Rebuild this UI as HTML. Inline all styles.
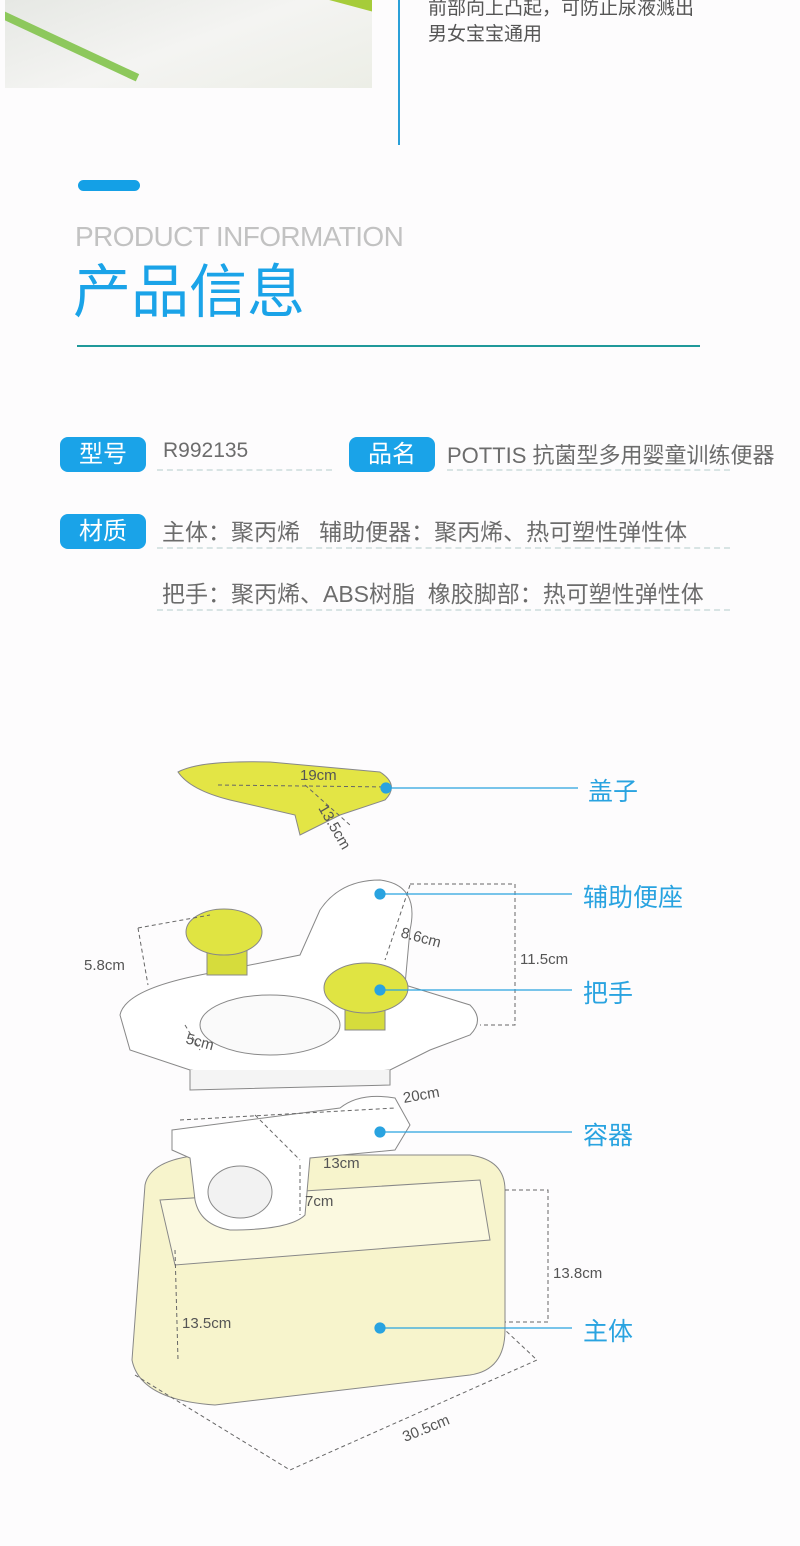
<!DOCTYPE html>
<html><head><meta charset="utf-8"><style>
body{margin:0;width:800px;height:1546px;background:#fdfcfd;position:relative;overflow:hidden;font-family:"Liberation Sans","Noto Sans CJK SC",sans-serif}
.a{position:absolute;white-space:nowrap}
.pill{position:absolute;background:#1aa3e8;color:#fff;border-radius:8px;font-size:24px;text-align:center;line-height:35px;height:35px;width:86px}
.t{position:absolute;color:#6c6c6c;font-size:23px;white-space:nowrap}
.d{position:absolute;border-top:2px dashed #d8e4e4;height:0}
</style></head><body>
<div class="a" style="left:5px;top:0;width:367px;height:88px;background:linear-gradient(160deg,#e6e8e4,#f4f4f2 50%,#eceee6);overflow:hidden">
<div style="position:absolute;left:-20px;top:40px;width:160px;height:8px;background:#8dc85c;transform:rotate(25deg)"></div>
<div style="position:absolute;left:300px;top:-10px;width:80px;height:14px;background:#a6cc3a;transform:rotate(15deg)"></div></div>
<div class="a" style="left:398px;top:0;width:2px;height:145px;background:#2aa0d8"></div>
<div class="a" style="left:428px;top:-4px;font-size:19px;color:#555;line-height:26px">前部向上凸起，可防止尿液溅出<br>男女宝宝通用</div>
<div class="a" style="left:78px;top:180px;width:62px;height:11px;border-radius:6px;background:#14a0e6"></div>
<div class="a" style="left:75px;top:221px;font-size:28px;color:#c2c2c2;letter-spacing:-0.6px">PRODUCT INFORMATION</div>
<div class="a" style="left:73px;top:258px;font-size:58px;color:#1aa3e8;line-height:70px">产品信息</div>
<div class="a" style="left:77px;top:345px;width:623px;height:2px;background:#20999a"></div>

<div class="pill" style="left:60px;top:437px">型号</div>
<div class="t" style="left:163px;top:439px;font-size:21px">R992135</div>
<div class="d" style="left:157px;top:469px;width:175px"></div>
<div class="pill" style="left:349px;top:437px">品名</div>
<div class="t" style="left:447px;top:438px;font-size:22px">POTTIS 抗菌型多用婴童训练便器</div>
<div class="d" style="left:447px;top:469px;width:283px"></div>
<div class="pill" style="left:60px;top:514px">材质</div>
<div class="t" style="left:162px;top:513px">主体：聚丙烯&nbsp;&nbsp;&nbsp;辅助便器：聚丙烯、热可塑性弹性体</div>
<div class="d" style="left:157px;top:547px;width:573px"></div>
<div class="t" style="left:162px;top:575px">把手：聚丙烯、ABS树脂&nbsp;&nbsp;橡胶脚部：热可塑性弹性体</div>
<div class="d" style="left:157px;top:609px;width:573px"></div>

<svg class="a" style="left:0;top:740px" width="800" height="760" viewBox="0 740 800 760" font-family="Liberation Sans" font-size="15" fill="#555">
<g stroke="#888" stroke-width="1">
<!-- main body -->
<path d="M145 1185 Q150 1160 200 1155 L470 1155 Q505 1160 505 1190 L505 1330 Q505 1370 470 1375 L215 1405 Q140 1400 132 1360 Z" fill="#f7f4cc"/>
<path d="M160 1200 L480 1180 L490 1240 L175 1265 Z" fill="#fbf9e0"/>
<!-- container -->
<path d="M172 1130 L340 1108 Q360 1092 395 1098 L410 1125 L395 1150 L310 1158 L305 1215 Q290 1230 230 1230 Q200 1225 195 1200 L190 1158 L172 1150 Z" fill="#fff"/>
<ellipse cx="240" cy="1192" rx="32" ry="26" fill="#f2f2f2"/>
<!-- seat -->
<path d="M120 1015 Q125 990 200 975 L300 955 L320 910 Q340 880 380 880 Q420 885 410 930 L405 985 L470 1005 Q485 1020 470 1035 L430 1050 L390 1070 L260 1080 L190 1070 L130 1050 Z" fill="#fff"/>
<path d="M190 1070 L190 1090 L390 1085 L390 1070" fill="#f4f4f4"/>
<ellipse cx="270" cy="1025" rx="70" ry="30" fill="#fafafa"/>
<!-- handles -->
<rect x="207" y="945" width="40" height="30" fill="#d6dc3c"/>
<ellipse cx="224" cy="932" rx="38" ry="23" fill="#e0e442"/>
<rect x="345" y="995" width="40" height="35" fill="#d6dc3c"/>
<ellipse cx="366" cy="988" rx="42" ry="25" fill="#e0e442"/>
<!-- lid -->
<path d="M178 772 Q200 760 270 762 L380 772 Q400 785 385 800 L340 815 L300 835 L295 815 L230 800 Q190 790 178 772 Z" fill="#e3e545"/>
</g>
<g stroke="#666" stroke-dasharray="4 3" fill="none">
<path d="M218 785 L390 787 M305 785 L350 825 M410 884 L515 884 L515 1025 L480 1025 M410 885 L385 960 M138 928 L148 985 M138 928 L210 915 M185 1025 L200 1050 M180 1120 L395 1108 M255 1115 L300 1160 M300 1165 L300 1215 M505 1190 L548 1190 L548 1322 L505 1322 M175 1250 L178 1360 M135 1375 L290 1470 L537 1360 L505 1330"/>
</g>
<text x="300" y="780">19cm</text>
<text x="318" y="808" transform="rotate(60 318 808)">13.5cm</text>
<text x="400" y="937" transform="rotate(15 400 937)">8.6cm</text>
<text x="520" y="964">11.5cm</text>
<text x="84" y="970">5.8cm</text>
<text x="185" y="1043" transform="rotate(15 185 1043)">5cm</text>
<text x="404" y="1103" transform="rotate(-10 404 1103)">20cm</text>
<text x="323" y="1168">13cm</text>
<text x="305" y="1206">7cm</text>
<text x="553" y="1278">13.8cm</text>
<text x="182" y="1328">13.5cm</text>
<text x="405" y="1442" transform="rotate(-22 405 1442)">30.5cm</text>
<g stroke="#29a3e0" stroke-width="1.2" fill="#29a3e0">
<line x1="386" y1="788" x2="578" y2="788"/><circle cx="386" cy="788" r="5"/>
<line x1="380" y1="894" x2="572" y2="894"/><circle cx="380" cy="894" r="5"/>
<line x1="380" y1="990" x2="572" y2="990"/><circle cx="380" cy="990" r="5"/>
<line x1="380" y1="1132" x2="572" y2="1132"/><circle cx="380" cy="1132" r="5"/>
<line x1="380" y1="1328" x2="572" y2="1328"/><circle cx="380" cy="1328" r="5"/>
</g>
<g fill="#29a3e0" font-family="Liberation Sans,Noto Sans CJK SC,sans-serif" font-size="25">
<text x="588" y="800">盖子</text>
<text x="583" y="906">辅助便座</text>
<text x="583" y="1002">把手</text>
<text x="583" y="1144">容器</text>
<text x="583" y="1340">主体</text>
</g>
</svg>
</body></html>
